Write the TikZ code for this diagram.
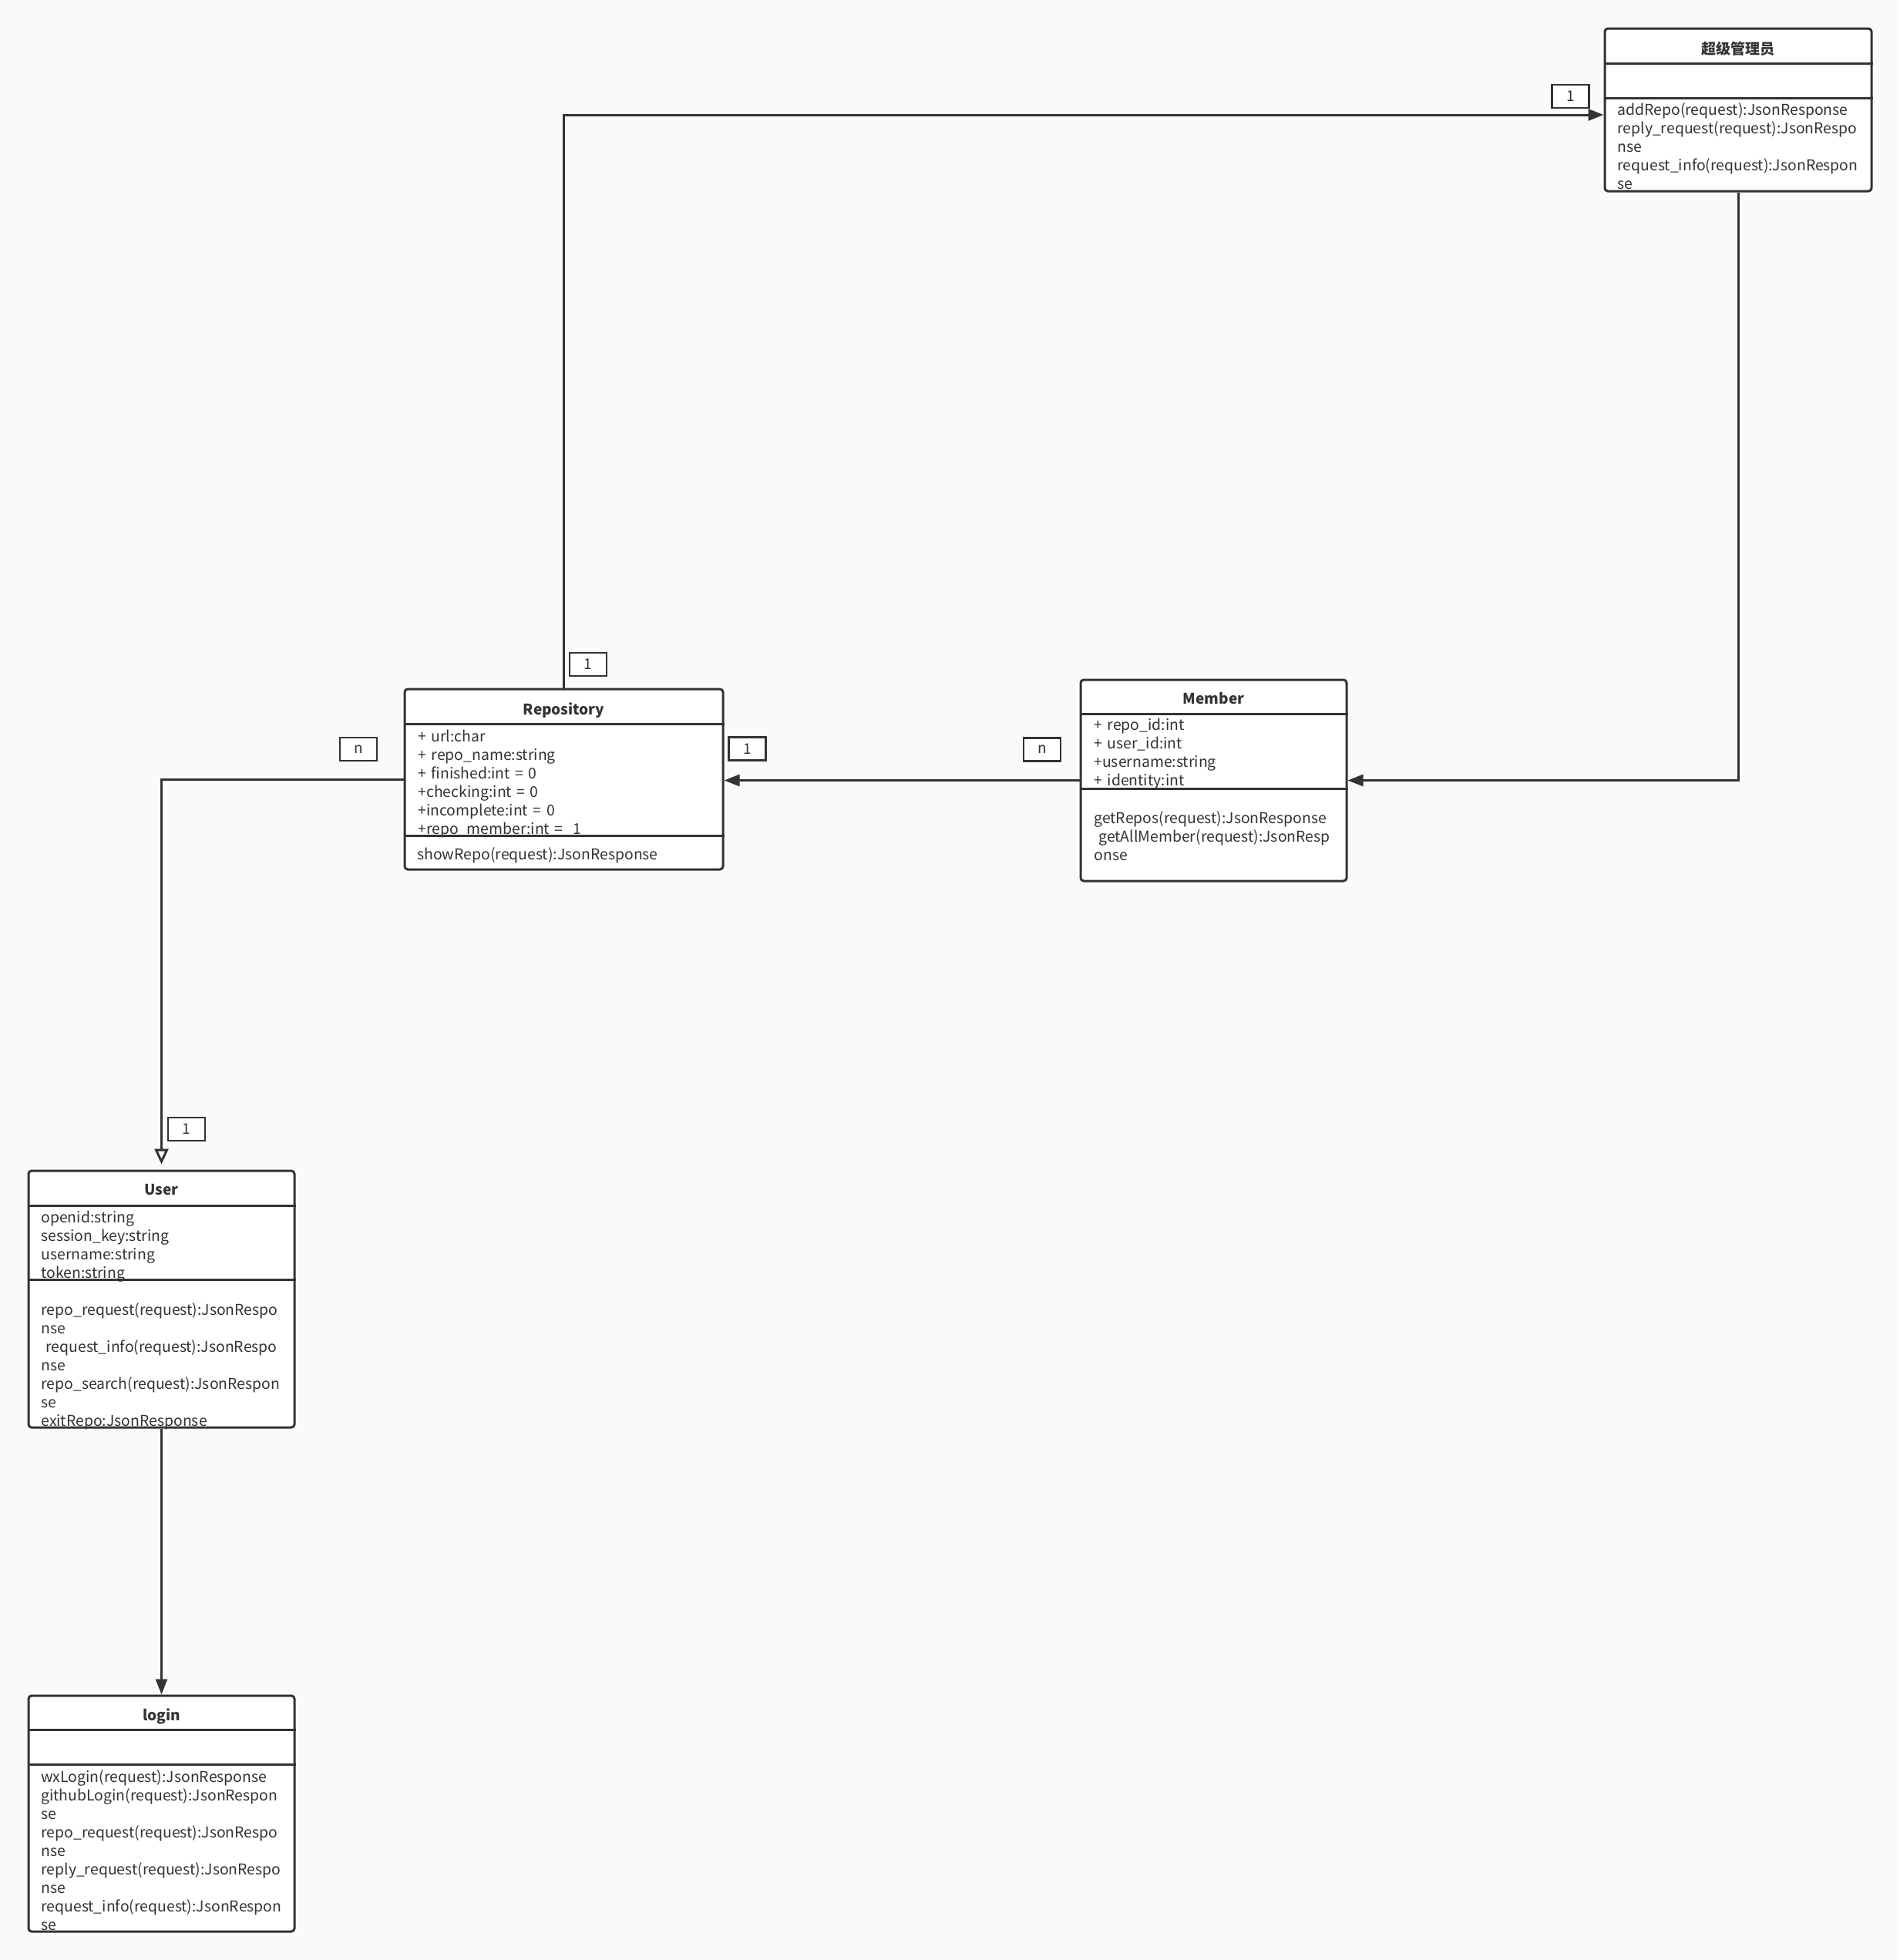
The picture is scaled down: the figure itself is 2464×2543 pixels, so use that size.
\documentclass[tikz,border=0pt]{standalone}
\usepackage{fontspec}
\setmainfont[WordSpace=1.5]{Noto Sans CJK SC}
\usetikzlibrary{arrows.meta,fit}
\definecolor{bgc}{HTML}{FAFAFA}
\definecolor{ln}{HTML}{333333}
\tikzset{
  cls/.style={draw=ln,line width=1.5pt,fill=white,rounded corners=2pt,inner sep=0pt},
  sep/.style={draw=ln,line width=1.5pt},
  txt/.style={anchor=base west,inner sep=0pt,text=ln,font=\fontsize{9.7pt}{12pt}\selectfont},
  ttl/.style={anchor=base,inner sep=0pt,text=ln,font=\fontsize{9.5pt}{12pt}\selectfont\bfseries},
  mult/.style={draw=ln,line width=1.2pt,fill=white,inner sep=0pt,minimum width=24pt,minimum height=15pt,text=ln,font=\fontsize{9.5pt}{12pt}\selectfont},
  conn/.style={draw=ln,line width=1.5pt},
  fillarrow/.style={-{Triangle[length=10pt,width=7.5pt]}},
  openarrow/.style={-{Triangle[open,length=10pt,width=9pt,fill=white]}}
}
\newcommand\classlines[4]{%
  \foreach \t [count=\i] in {#4} {\node[txt] (#1-\i) at (#2,#3+24*\i-24) {\t};}}
\begin{document}
\begin{tikzpicture}[x=0.5pt,y=-0.5pt]
\fill[bgc] (0,0) rectangle (2464,2543);
\useasboundingbox (0,0) rectangle (2464,2543);

% ---- class boxes ----
\node[cls,fit={(2082,37) (2428,248)}] (admin) {};
\node[cls,fit={(525,894) (938,1128)}] (repo) {};
\node[cls,fit={(1402,882) (1747,1143)}] (member) {};
\node[cls,fit={(37,1519) (382,1852)}] (user) {};
\node[cls,fit={(37,2200) (382,2506)}] (login) {};

% dividers
\draw[sep] (admin.west |- 0,82) -- (admin.east |- 0,82);
\draw[sep] (admin.west |- 0,127) -- (admin.east |- 0,127);
\draw[sep] (repo.west |- 0,939) -- (repo.east |- 0,939);
\draw[sep] (repo.west |- 0,1084) -- (repo.east |- 0,1084);
\draw[sep] (member.west |- 0,926) -- (member.east |- 0,926);
\draw[sep] (member.west |- 0,1023) -- (member.east |- 0,1023);
\draw[sep] (user.west |- 0,1564) -- (user.east |- 0,1564);
\draw[sep] (user.west |- 0,1660) -- (user.east |- 0,1660);
\draw[sep] (login.west |- 0,2244) -- (login.east |- 0,2244);
\draw[sep] (login.west |- 0,2289) -- (login.east |- 0,2289);

% titles
\node[ttl] (adminT) at (2255,70) {超级管理员};
\node[ttl] (repoT) at (731.5,927) {Repository};
\node[ttl] (memberT) at (1574.5,913) {Member};
\node[ttl] (userT) at (209.5,1550) {User};
\node[ttl] (loginT) at (209.5,2232) {login};

% texts
\classlines{adminM}{2098}{149}{addRepo(request):JsonResponse,reply\_request(request):JsonRespo,nse,request\_info(request):JsonRespon,se}
\classlines{repoA}{542}{962}{+ url:char,+ repo\_name:string,+ finished:int = 0,+checking:int = 0,+incomplete:int = 0,+repo\_member:int = \ 1}
\classlines{repoM}{541}{1115}{showRepo(request):JsonResponse}
\classlines{memberA}{1419}{947}{+ repo\_id:int,+ user\_id:int,+username:string,+ identity:int}
\classlines{memberM}{1419}{1068}{getRepos(request):JsonResponse,\hspace{3pt}getAllMember(request):JsonResp,onse}
\classlines{userA}{53}{1586}{openid:string,session\_key:string,username:string,token:string}
\classlines{userM}{53}{1706}{repo\_request(request):JsonRespo,nse,\hspace{3pt}request\_info(request):JsonRespo,nse,repo\_search(request):JsonRespon,se,exitRepo:JsonResponse}
\classlines{loginM}{53}{2312}{wxLogin(request):JsonResponse,githubLogin(request):JsonRespon,se,repo\_request(request):JsonRespo,nse,reply\_request(request):JsonRespo,nse,request\_info(request):JsonRespon,se}

% ---- connectors ----
\draw[conn,fillarrow] (repo.north) -- (repo.north |- 0,149) -- (admin.west |- 0,149);
\draw[conn,fillarrow] (admin.south) |- (member.east);
\draw[conn,fillarrow] (member.west) -- (repo.east |- member.west);
\draw[conn,openarrow,shorten >=3.5pt] (repo.west) -| (user.north);
\draw[conn,fillarrow] (user.south) -- (login.north);

% ---- multiplicities ----
\node[mult] (m1) at (2037.5,125) {1};
\node[mult] (m2) at (763,862) {1};
\node[mult] (m3) at (969.5,971.5) {1};
\node[mult] (m4) at (1352,972.5) {n};
\node[mult] (m5) at (465,972) {n};
\node[mult] (m6) at (242,1465) {1};
\end{tikzpicture}
\end{document}
